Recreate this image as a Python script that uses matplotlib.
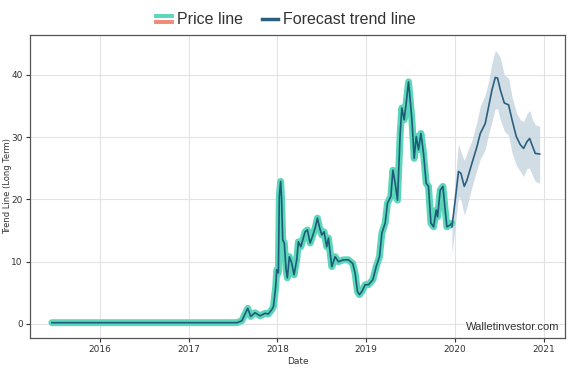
import matplotlib
matplotlib.use('Agg')
import matplotlib.pyplot as plt
from matplotlib.lines import Line2D
from matplotlib.legend_handler import HandlerBase

# price history (decimal year, value)
price_x = [2015.459, 2017.545, 2017.598, 2017.665, 2017.699, 2017.747, 2017.804, 2017.860,
           2017.897, 2017.936, 2017.955, 2017.980, 2017.992, 2018.010, 2018.021, 2018.036,
           2018.047, 2018.059, 2018.077, 2018.097, 2018.111, 2018.134, 2018.160, 2018.187,
           2018.217, 2018.236, 2018.263, 2018.285, 2018.311, 2018.337, 2018.368, 2018.393,
           2018.424, 2018.450, 2018.472, 2018.499, 2018.525, 2018.555, 2018.574, 2018.612,
           2018.649, 2018.687, 2018.743, 2018.799, 2018.848, 2018.875, 2018.901, 2018.923,
           2018.950, 2018.968, 2018.988, 2019.025, 2019.074, 2019.112, 2019.149, 2019.176,
           2019.213, 2019.239, 2019.277, 2019.300, 2019.326, 2019.352, 2019.382, 2019.401,
           2019.427, 2019.450, 2019.476, 2019.495, 2019.514, 2019.540, 2019.563, 2019.589,
           2019.616, 2019.645, 2019.675, 2019.701, 2019.728, 2019.758, 2019.788, 2019.803,
           2019.833, 2019.863, 2019.889, 2019.908, 2019.946, 2019.965]
price_y = [0.2, 0.2, 0.5, 2.5, 1.2, 1.8, 1.3, 1.7,
           1.6, 2.3, 2.8, 6.0, 8.7, 8.2, 20.5, 22.9,
           19.9, 13.5, 13.0, 8.7, 7.4, 10.8, 9.8, 7.9,
           10.3, 13.2, 12.4, 13.5, 14.8, 15.1, 13.0, 14.0,
           15.4, 17.0, 15.6, 14.3, 14.8, 12.4, 13.8, 9.2,
           10.8, 10.0, 10.3, 10.3, 9.7, 8.1, 5.2, 4.7,
           5.2, 5.7, 6.3, 6.3, 7.1, 9.2, 10.8, 14.6,
           16.2, 19.4, 20.5, 24.7, 22.6, 19.9, 30.6, 34.7,
           32.8, 35.5, 38.9, 36.0, 32.8, 26.6, 30.1, 28.0,
           30.6, 27.4, 22.6, 22.1, 16.2, 15.6, 18.3, 17.2,
           21.5, 22.1, 18.3, 15.6, 15.9, 16.2]

# forecast with band
fc_x = [2019.965, 2020.002, 2020.039, 2020.066, 2020.104, 2020.134, 2020.190, 2020.247,
        2020.284, 2020.340, 2020.378, 2020.416, 2020.453, 2020.479, 2020.510, 2020.555,
        2020.603, 2020.642, 2020.690, 2020.735, 2020.772, 2020.811, 2020.840, 2020.874,
        2020.904, 2020.953]
fc_y = [15.6, 19.9, 24.5, 24.2, 22.1, 23.1, 25.8, 28.5,
        30.6, 32.2, 34.9, 37.6, 39.6, 39.5, 37.6, 35.5,
        35.2, 32.8, 30.1, 28.8, 28.2, 29.3, 29.8, 28.5,
        27.4, 27.3]
fc_hi = [16.0, 23.1, 29.0, 27.6, 26.3, 27.5, 29.5, 32.5,
         35.0, 36.8, 39.0, 41.9, 44.0, 43.5, 42.8, 40.0,
         39.5, 36.5, 34.0, 32.8, 32.5, 33.8, 34.3, 32.8,
         32.0, 31.8]
fc_lo = [11.4, 15.6, 20.5, 19.9, 17.5, 18.8, 22.0, 24.8,
         26.5, 28.0, 30.5, 32.5, 34.6, 34.5, 32.8, 31.0,
         30.3, 27.5, 25.5, 24.5, 23.7, 25.0, 25.0, 23.8,
         22.9, 22.6]

years = [2016, 2017, 2018, 2019, 2020, 2021]

TURQ = '#5cd6b9'
SALMON = '#f08a78'
DARK = '#1d5c78'
FC = '#2b5f80'


class TwoLineHandler(HandlerBase):
    def create_artists(self, legend, orig, xd, yd, w, h, fontsize, trans):
        a = Line2D([xd, xd + w], [yd + h * 0.72] * 2, color=TURQ, lw=2.8, transform=trans)
        b = Line2D([xd, xd + w], [yd + h * 0.2] * 2, color=SALMON, lw=2.8, transform=trans)
        return [a, b]


fig = plt.figure(figsize=(5.72, 3.78), dpi=100)
ax = fig.add_axes([0.052, 0.106, 0.936, 0.801])

ax.fill_between(fc_x, fc_lo, fc_hi, color='#c9d7e1', alpha=0.85, lw=0)
ax.plot(price_x, price_y, color=TURQ, lw=5, solid_joinstyle='round', solid_capstyle='round')
ax.plot(price_x, price_y, color=DARK, lw=1.2)
ax.plot(fc_x, fc_y, color=FC, lw=1.2)

ax.set_xlim(2015.21, 2021.24)
ax.set_ylim(-2.25, 46.4)
ax.set_xticks(years)
ax.set_xticklabels([str(y) for y in years])
ax.set_yticks([0, 10, 20, 30, 40])
ax.tick_params(labelsize=6.5, colors='#333333', length=3, pad=2)
ax.grid(color='#e3e3e3', lw=0.8)
ax.set_axisbelow(True)
for s in ax.spines.values():
    s.set_color('#555555')
    s.set_linewidth(0.9)
ax.set_xlabel('Date', fontsize=6.5, color='#333333', labelpad=2)
ax.set_ylabel('Trend Line (Long Term)', fontsize=6, color='#333333')
ax.yaxis.set_label_coords(-0.033, 0.5)

ax.text(0.99, 0.02, 'Walletinvestor.com', transform=ax.transAxes, ha='right', va='bottom',
        fontsize=8, color='#333333', family='Liberation Sans')

h1 = Line2D([], [], color=TURQ)
h2 = Line2D([], [], color=FC, lw=2.5)
fig.legend([h1, h2], ['Price line', 'Forecast trend line'], loc='upper center',
           bbox_to_anchor=(0.5, 1.005), ncol=2, frameon=False,
           prop={'family': 'Liberation Sans', 'size': 11.5},
           handler_map={h1: TwoLineHandler()}, handlelength=1.0, handletextpad=0.3,
           columnspacing=1.2, labelcolor='#333333')

plt.savefig('out.png', dpi=100)
